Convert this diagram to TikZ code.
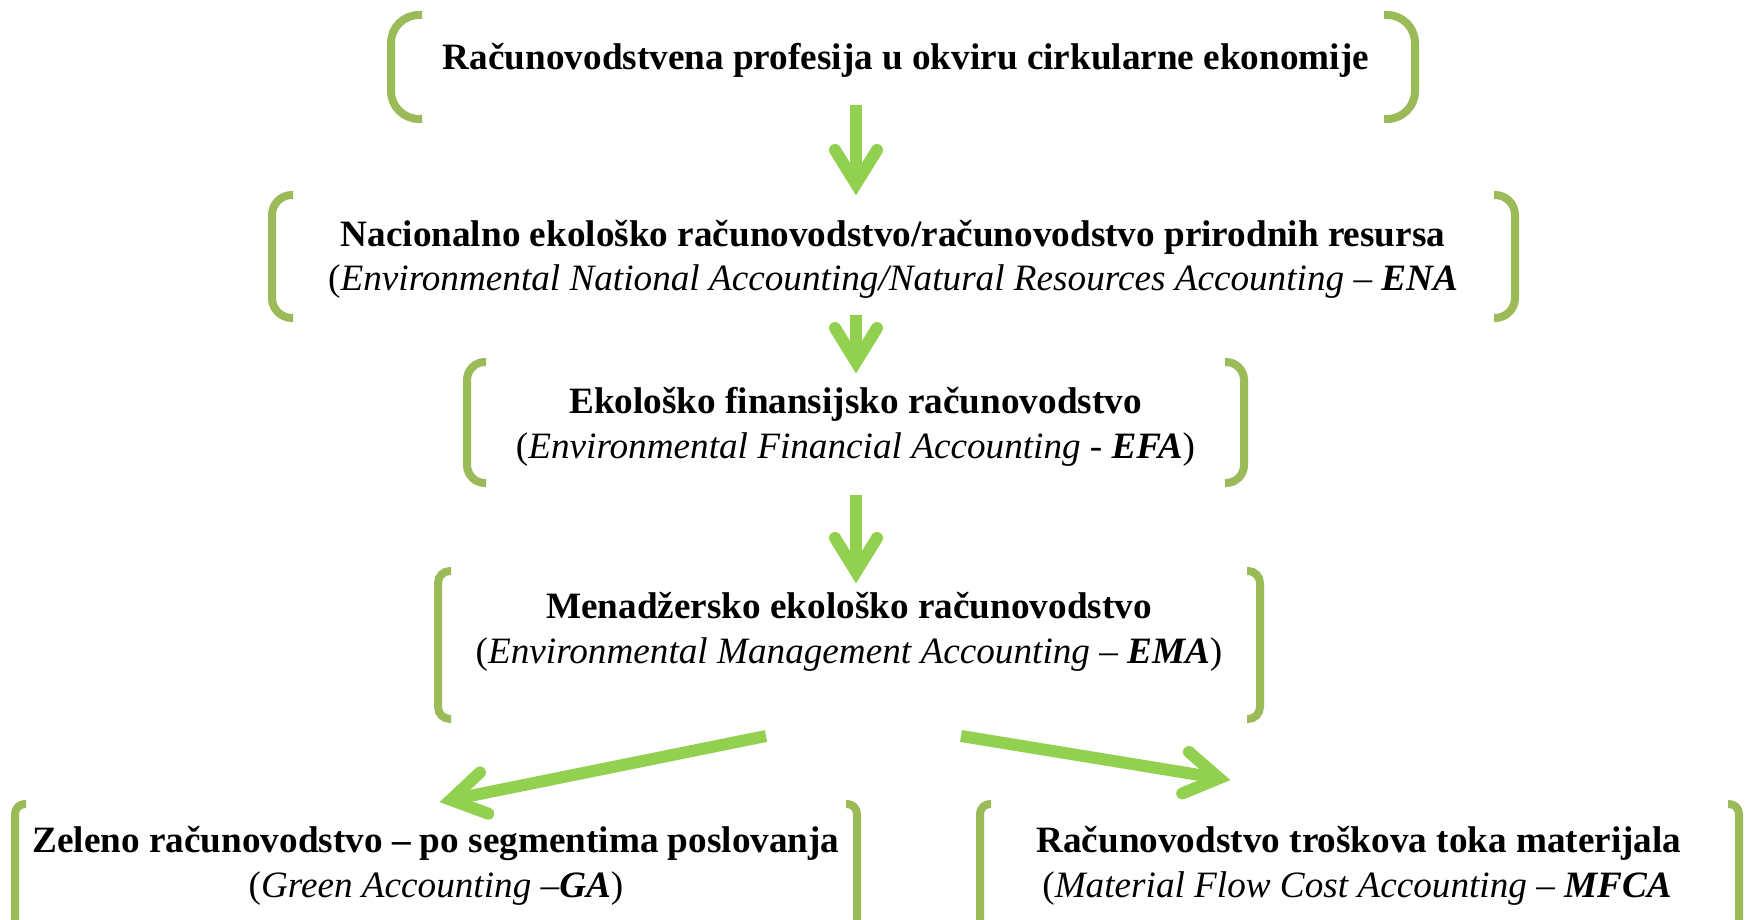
\documentclass[tikz,border=0pt]{standalone}
\usepackage{fontspec}
\setmainfont{Liberation Serif}
\usetikzlibrary{calc}
\definecolor{brk}{HTML}{9BBB59}
\definecolor{arr}{HTML}{92D050}
\tikzset{
  boxn/.style={draw=none, inner sep=0pt, outer sep=0pt},
  brkline/.style={draw=brk, line width=4pt, line cap=butt},
  arrshaft/.style={draw=arr, line width=6pt, line cap=butt},
  arrhead/.style={draw=arr, line width=6pt, line cap=round, line join=miter},
  txt/.style={anchor=base, inner sep=0pt, font=\fontsize{18.6}{22}\selectfont},
}
\newcommand{\drawbrackets}[3]{%
  \draw[brkline, rounded corners=#3] ([xshift=#2]#1.north west) -- (#1.north west) -- (#1.south west) -- ([xshift=#2]#1.south west);
  \draw[brkline, rounded corners=#3] ([xshift=-#2]#1.north east) -- (#1.north east) -- (#1.south east) -- ([xshift=-#2]#1.south east);
}
\newcommand{\greenarrow}[2]{%
  \path (#1) coordinate (tmpS) (#2) coordinate (tmpT);
  \coordinate (tmpJ) at ($(tmpT)!5.5pt!(tmpS)$);
  \coordinate (tmpP) at ($(tmpJ)!17pt!(tmpS)$);
  \draw[arrshaft] (tmpS) -- (tmpJ);
  \draw[arrhead] ($(tmpP)!10.5pt!90:(tmpJ)$) -- (tmpJ) -- ($(tmpP)!10.5pt!-90:(tmpJ)$);
}
\begin{document}
\begin{tikzpicture}[x=0.5pt, y=-0.5pt]
\useasboundingbox (0,0) rectangle (1747,920);
\clip (0,0) rectangle (1747,920);

% boxes
\node[boxn, minimum width=512pt, minimum height=52pt] (b1) at (903,67) {};
\node[boxn, minimum width=621.5pt, minimum height=61.5pt] (b2) at (893.5,256.5) {};
\node[boxn, minimum width=388.5pt, minimum height=60.5pt] (b3) at (855.5,422.5) {};
\node[boxn, minimum width=411pt, minimum height=74pt] (b4) at (849,645) {};
\node[boxn, minimum width=421pt, minimum height=80pt] (b5) at (436,884) {};
\node[boxn, minimum width=379.5pt, minimum height=80pt] (b6) at (1359.5,884) {};

\drawbrackets{b1}{15.5pt}{14pt}
\drawbrackets{b2}{10.5pt}{10pt}
\drawbrackets{b3}{9.5pt}{9pt}
\drawbrackets{b4}{6.5pt}{6pt}
\drawbrackets{b5}{5.5pt}{5pt}
\drawbrackets{b6}{5.5pt}{5pt}

% texts
\node[txt] (t1) at (906,70) {\textbf{Računovodstvena profesija u okviru cirkularne ekonomije}};
\node[txt] (t2a) at (893,247) {\textbf{Nacionalno ekološko računovodstvo/računovodstvo prirodnih resursa}};
\node[txt] (t2b) at (893,290) {(\textit{Environmental National Accounting/Natural Resources Accounting – \textbf{ENA}}};
\node[txt] (t3a) at (855.5,413) {\textbf{Ekološko finansijsko računovodstvo}};
\node[txt] (t3b) at (855.5,458) {(\textit{Environmental Financial Accounting} - \textbf{\textit{EFA}})};
\node[txt] (t4a) at (849,618) {\textbf{Menadžersko ekološko računovodstvo}};
\node[txt] (t4b) at (849,663) {(\textit{Environmental Management Accounting – \textbf{EMA}})};
\node[txt] (t5a) at (436,852) {\textbf{Zeleno računovodstvo – po segmentima poslovanja}};
\node[txt] (t5b) at (436,897) {(\textit{Green Accounting –\textbf{GA}})};
\node[txt] (t6a) at (1359,852) {\textbf{Računovodstvo troškova toka materijala}};
\node[txt] (t6b) at (1357,897) {(\textit{Material Flow Cost Accounting – \textbf{MFCA}}};

% arrows
\greenarrow{$(b1.south)+(-47,-14)$}{$(b2.north)+(-37.5,0)$}
\greenarrow{$(b2.south)+(-37.5,-3)$}{$(b3.north)+(0.5,11)$}
\greenarrow{$(b3.south)+(0.5,12)$}{$(b4.north)+(7,12)$}
\greenarrow{$(b4.south)+(-83,17)$}{$(b5.north)+(4,-2)$}
\greenarrow{$(b4.south)+(112,17)$}{$(b6.north)+(-129.5,-24)$}
\end{tikzpicture}
\end{document}
